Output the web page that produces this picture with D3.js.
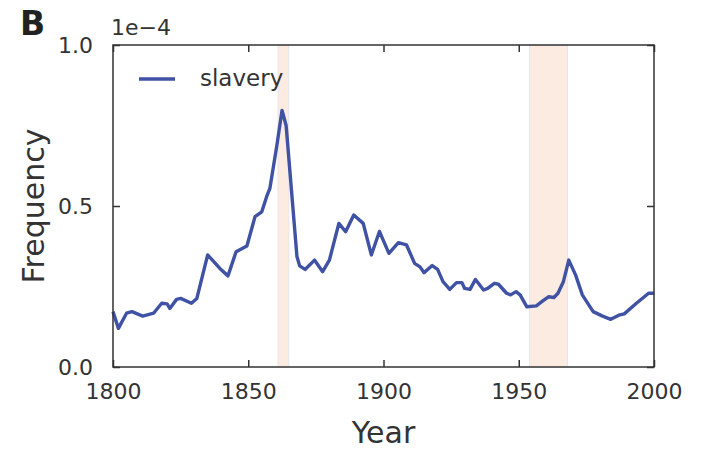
<!DOCTYPE html>
<html>
<head>
<meta charset="utf-8">
<script src="https://cdn.jsdelivr.net/npm/d3@7"></script>
<style>
  html, body { margin: 0; padding: 0; background: #fff; }
  svg { display: block; }
  text { font-family: "DejaVu Sans", sans-serif; }
</style>
</head>
<body>
<svg id="chart" width="703" height="451"></svg>
<script>
const years = [1800, 1802, 1805, 1807, 1811, 1815, 1818, 1820, 1821, 1823.5, 1825, 1829, 1831, 1835, 1839.5, 1842.5, 1845.5, 1849.5, 1852.5, 1855, 1857, 1858, 1860.5, 1862.5, 1864, 1868, 1869, 1871, 1874.5, 1877.5, 1880, 1883.5, 1886, 1889, 1892.5, 1895.5, 1898.5, 1902, 1905.5, 1908.5, 1911.5, 1913.5, 1915, 1918, 1920, 1922, 1924.5, 1927, 1929, 1930, 1932, 1934, 1937, 1938.5, 1941, 1942.5, 1945.5, 1947, 1949, 1950.5, 1953, 1956.5, 1959, 1961, 1963, 1964.5, 1966.5, 1968.5, 1971, 1973.5, 1977.5, 1981, 1984, 1987, 1989, 1993.5, 1998, 2000];
const slavery = [0.172, 0.120, 0.167, 0.172, 0.158, 0.167, 0.198, 0.196, 0.182, 0.210, 0.213, 0.198, 0.213, 0.348, 0.306, 0.283, 0.358, 0.376, 0.467, 0.482, 0.534, 0.555, 0.684, 0.797, 0.750, 0.343, 0.314, 0.303, 0.332, 0.296, 0.332, 0.446, 0.420, 0.472, 0.446, 0.348, 0.421, 0.353, 0.386, 0.379, 0.322, 0.311, 0.293, 0.315, 0.303, 0.265, 0.241, 0.262, 0.262, 0.244, 0.241, 0.272, 0.239, 0.244, 0.260, 0.257, 0.229, 0.224, 0.234, 0.224, 0.187, 0.190, 0.206, 0.218, 0.216, 0.229, 0.265, 0.332, 0.286, 0.224, 0.172, 0.158, 0.148, 0.161, 0.165, 0.198, 0.229, 0.229];
const bands = [[1861, 1865], [1954, 1968]];
const xTicks = [1800, 1850, 1900, 1950, 2000];
const yTicks = [0.0, 0.5, 1.0];
const seriesName = "slavery";

const svg = d3.select("#chart");
const m = {left: 113, right: 703 - 654, top: 45, bottom: 451 - 367};
const W = 703 - m.left - m.right, H = 451 - m.top - m.bottom;
const g = svg.append("g").attr("transform", `translate(${m.left},${m.top})`);

const x = d3.scaleLinear().domain([1800, 2000]).range([0, W]);
const y = d3.scaleLinear().domain([0, 1]).range([H, 0]);

// bands
g.selectAll("rect.band").data(bands).join("rect")
  .attr("class", "band")
  .attr("x", d => x(d[0])).attr("width", d => x(d[1]) - x(d[0]))
  .attr("y", 0).attr("height", H)
  .attr("fill", "#fcebe0").attr("stroke", "#e7e4ec").attr("stroke-width", 1);

// line
const line = d3.line().x((d, i) => x(years[i])).y(d => y(d));
g.append("path").datum(slavery)
  .attr("d", line).attr("fill", "none")
  .attr("stroke", "#4052a3").attr("stroke-width", 3.4)
  .attr("stroke-linejoin", "round");

// axes with inward ticks
const tickColor = "#333";
const fmtY = d3.format(".1f");
const axB = g.append("g").attr("transform", `translate(0,${H})`)
  .call(d3.axisBottom(x).tickValues(xTicks).tickSize(-7).tickPadding(16).tickFormat(d3.format("d")));
const axT = g.append("g")
  .call(d3.axisTop(x).tickValues(xTicks).tickSize(-7).tickFormat(""));
const axL = g.append("g")
  .call(d3.axisLeft(y).tickValues(yTicks).tickSize(-7).tickPadding(20).tickFormat(fmtY));
const axR = g.append("g").attr("transform", `translate(${W},0)`)
  .call(d3.axisRight(y).tickValues(yTicks).tickSize(-7).tickFormat(""));
[axB, axT, axL, axR].forEach(a => {
  a.select(".domain").remove();
  a.selectAll(".tick line").attr("stroke", tickColor).attr("stroke-width", 1.5);
  a.selectAll(".tick text").attr("fill", "#333").style("font-size", "22px")
    .style("font-family", "'DejaVu Sans', sans-serif");
});
axB.selectAll(".tick text").attr("dy", "0.71em").attr("y", 16);

// frame
g.append("rect").attr("x", 0).attr("y", 0).attr("width", W).attr("height", H)
  .attr("fill", "none").attr("stroke", "#333").attr("stroke-width", 1.5);

// offset label
svg.append("text").attr("x", 111).attr("y", 35).attr("fill", "#333")
  .style("font-size", "22px").text("1e\u22124");

// panel letter
svg.append("text").attr("x", 20).attr("y", 35).attr("fill", "#222")
  .style("font-size", "33px").style("font-weight", "bold").text("B");

// axis labels
svg.append("text").attr("x", m.left + W / 2).attr("y", 443).attr("text-anchor", "middle")
  .attr("fill", "#333").style("font-size", "30px").text("Year");
svg.append("text").attr("transform", `translate(44,${m.top + H / 2}) rotate(-90)`)
  .attr("text-anchor", "middle").attr("fill", "#333").style("font-size", "30px").text("Frequency");

// legend
svg.append("line").attr("x1", 139).attr("x2", 175).attr("y1", 79).attr("y2", 79)
  .attr("stroke", "#4052a3").attr("stroke-width", 3.4);
svg.append("text").attr("x", 200).attr("y", 86).attr("fill", "#333")
  .style("font-size", "23px").text(seriesName);
</script>
</body>
</html>
